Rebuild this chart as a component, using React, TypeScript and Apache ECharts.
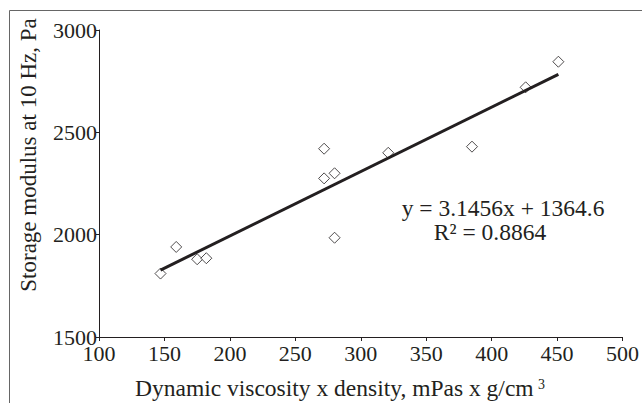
import React, { useEffect, useRef } from "react";
import * as echarts from "echarts";

const xValues = [147, 159, 175, 182, 272, 272, 280, 280, 321, 385, 426, 451];
const yValues = [1810, 1940, 1880, 1885, 2420, 2275, 2300, 1985, 2400, 2430, 2720, 2845];
const slope = 3.1456;
const intercept = 1364.6;
const trendX = [147, 451];
const xTitle = "Dynamic viscosity x density, mPas x g/cm";
const yTitle = "Storage modulus at 10 Hz, Pa";
const eqText = "y = 3.1456x + 1364.6";
const r2Text = "R² = 0.8864";

const FONT = "Liberation Serif";
const INK = "#231f20";

export default function App() {
  const ref = useRef<HTMLDivElement>(null);
  useEffect(() => {
    if (!ref.current) return;
    const chart = echarts.init(ref.current, null, { renderer: "svg" });
    const points = xValues.map((x, i) => [x, yValues[i]]);
    const trend = trendX.map((x) => [x, slope * x + intercept]);
    chart.setOption({
      animation: false,
      backgroundColor: "#ffffff",
      grid: { left: 99, top: 30, width: 525.5, height: 307, containLabel: false },
      xAxis: {
        type: "value",
        min: 100,
        max: 500,
        interval: 50,
        axisLine: { show: true, onZero: false, lineStyle: { color: INK, width: 1 } },
        axisTick: { show: true, length: 4, lineStyle: { color: INK } },
        axisLabel: { margin: 5, color: INK, fontFamily: FONT, fontSize: 22, formatter: (v: number) => String(v) },
        splitLine: { show: false },
      },
      yAxis: {
        type: "value",
        min: 1500,
        max: 3000,
        interval: 500,
        axisLine: { show: true, onZero: false, lineStyle: { color: INK, width: 1 } },
        axisTick: { show: true, length: 3, lineStyle: { color: INK } },
        axisLabel: { margin: 2, color: INK, fontFamily: FONT, fontSize: 22, formatter: (v: number) => String(v) },
        splitLine: { show: false },
      },
      series: [
        {
          type: "scatter",
          data: points,
          symbol: "diamond",
          symbolSize: 11,
          itemStyle: { color: "#ffffff", borderColor: INK, borderWidth: 1 },
          z: 2,
        },
        {
          type: "line",
          data: trend,
          symbol: "none",
          lineStyle: { color: INK, width: 3 },
          z: 3,
        },
      ],
      graphic: [
        {
          type: "rect",
          shape: { x: 9.5, y: 10.5, width: 700, height: 500 },
          style: { fill: "none", stroke: "#666666", lineWidth: 1 },
          silent: true,
        },
        {
          type: "text",
          x: 135,
          y: 388,
          style: { text: xTitle, font: `23.5px "${FONT}"`, fill: INK, textAlign: "left", textVerticalAlign: "middle" },
        },
        {
          type: "text",
          x: 538,
          y: 384,
          style: { text: "3", font: `14px "${FONT}"`, fill: INK, textAlign: "left", textVerticalAlign: "middle" },
        },
        {
          type: "text",
          x: 28,
          y: 155,
          rotation: Math.PI / 2,
          style: { text: yTitle, font: `23px "${FONT}"`, fill: INK, textAlign: "center", textVerticalAlign: "middle" },
        },
        {
          type: "text",
          x: 503,
          y: 208,
          style: { text: eqText, font: `23.5px "${FONT}"`, fill: INK, textAlign: "center", textVerticalAlign: "middle" },
        },
        {
          type: "text",
          x: 490,
          y: 232,
          style: { text: r2Text, font: `23.5px "${FONT}"`, fill: INK, textAlign: "center", textVerticalAlign: "middle" },
        },
      ],
    });
    return () => chart.dispose();
  }, []);
  return (
    <div
      ref={ref}
      style={{ position: "absolute", left: 0, top: 0, width: 642, height: 403 }}
    />
  );
}
